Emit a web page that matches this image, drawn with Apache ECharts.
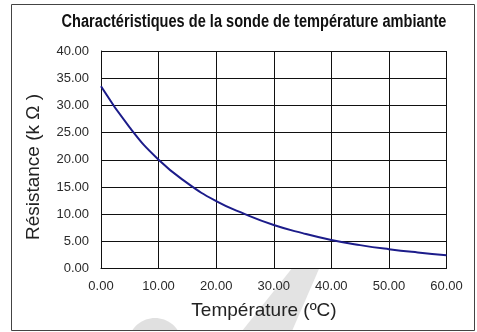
<!DOCTYPE html>
<html>
<head>
<meta charset="utf-8">
<script src="https://cdn.jsdelivr.net/npm/echarts@6/dist/echarts.min.js"></script>
<style>
  html, body { margin: 0; padding: 0; background: #fff; }
  #chart { width: 477px; height: 332px; }
</style>
</head>
<body>
<div id="chart"></div>
<script>
// Thermistor curve: resistance (kΩ) against ambient temperature (°C)
const temperatures = [0, 5, 10, 15, 20, 25, 30, 35, 40, 45, 50, 55, 60];
const resistances = [33.5, 25.9, 20.0, 15.7, 12.4, 10.0, 8.0, 6.5, 5.25, 4.3, 3.55, 2.95, 2.45];

const chartTitle = 'Charactéristiques de la sonde de température ambiante';
const xAxisName = 'Température (ºC)';
const yAxisName = 'Résistance (k Ω )';

const sans = '"Liberation Sans", Arial, Helvetica, sans-serif';

const chart = echarts.init(document.getElementById('chart'), null, { renderer: 'canvas' });

const seriesData = temperatures.map((t, i) => [t, resistances[i]]);

// round cap of the pale emblem, cut off at the bottom edge of the canvas
const capCx = 155, capCy = 345, capR = 27, canvasBottom = 331;
const capHalf = Math.asin((capCy - canvasBottom) / capR);
const capPoints = [];
for (let k = 0; k <= 24; k++) {
  const a = Math.PI + capHalf + ((Math.PI - 2 * capHalf) * k) / 24;
  capPoints.push([capCx + capR * Math.cos(a), capCy + capR * Math.sin(a)]);
}

chart.setOption({
  backgroundColor: '#fff',
  animation: false,
  graphic: {
    elements: [
      // pale background emblem peeking out under the plot
      {
        type: 'polygon',
        id: 'emblemCap',
        shape: { points: capPoints },
        style: { fill: '#e0e0e0' },
        silent: true,
        z: 0
      },
      {
        type: 'polygon',
        id: 'emblemBand',
        shape: { points: [[297, 262], [322, 262], [292, 331], [242, 331]] },
        style: { fill: '#e3e3e3' },
        silent: true,
        z: 0
      },
      // outer frame
      {
        type: 'rect',
        id: 'frame',
        shape: { x: 11.5, y: 4.5, width: 463, height: 326 },
        style: { fill: 'none', stroke: '#444', lineWidth: 1 },
        silent: true,
        z: 1
      },
      // condensed bold title
      {
        type: 'text',
        id: 'title',
        x: 254,
        y: 22,
        scaleX: 0.81,
        style: {
          text: chartTitle,
          align: 'center',
          verticalAlign: 'middle',
          font: 'bold 18px ' + sans,
          fill: '#111'
        },
        silent: true,
        z: 5
      },
      // axis names
      {
        type: 'text',
        id: 'xName',
        x: 264,
        y: 311,
        style: {
          text: xAxisName,
          align: 'center',
          verticalAlign: 'middle',
          font: '19px ' + sans,
          fill: '#222'
        },
        silent: true,
        z: 5
      },
      {
        type: 'text',
        id: 'yName',
        x: 33.5,
        y: 167,
        rotation: Math.PI / 2,
        style: {
          text: yAxisName,
          align: 'center',
          verticalAlign: 'middle',
          font: '19px ' + sans,
          fill: '#222'
        },
        silent: true,
        z: 5
      }
    ]
  },
  grid: {
    left: 101, top: 51, right: 30.5, bottom: 63.5,
    containLabel: false,
    show: true,
    backgroundColor: '#fff',
    borderWidth: 0,
    z: 1
  },
  xAxis: {
    type: 'value',
    min: 0, max: 60, interval: 10,
    z: 2,
    axisLine: { show: true, lineStyle: { color: '#111', width: 1 } },
    axisTick: { show: false },
    axisLabel: {
      margin: 11,
      fontFamily: sans,
      fontSize: 13, color: '#2a2a2a',
      formatter: v => v.toFixed(2)
    },
    splitLine: { show: true, lineStyle: { color: '#111', width: 1 } }
  },
  yAxis: {
    type: 'value',
    min: 0, max: 40, interval: 5,
    z: 2,
    axisLine: { show: true, lineStyle: { color: '#111', width: 1 } },
    axisTick: { show: false },
    axisLabel: {
      margin: 12,
      fontFamily: sans,
      fontSize: 13, color: '#2a2a2a',
      formatter: v => v.toFixed(2)
    },
    splitLine: { show: true, lineStyle: { color: '#111', width: 1 } }
  },
  series: [{
    type: 'line',
    data: seriesData,
    smooth: true,
    showSymbol: false,
    lineStyle: { color: '#1c1c8a', width: 2 },
    z: 3
  }]
});
</script>
</body>
</html>
